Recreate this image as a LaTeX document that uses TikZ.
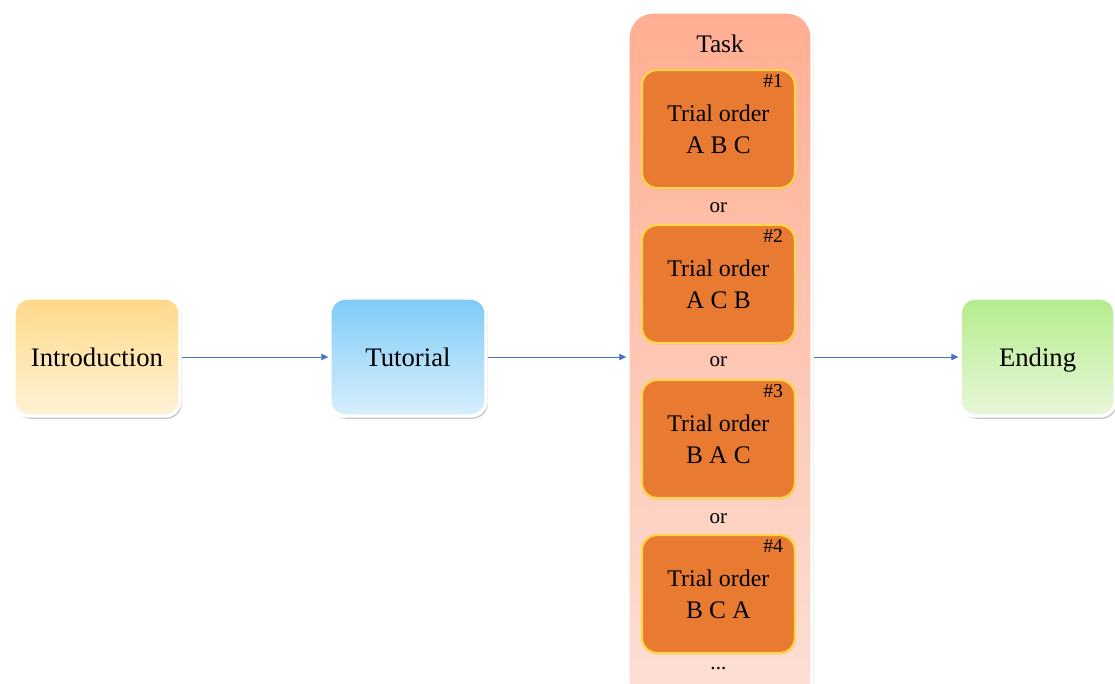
\documentclass[tikz,border=0pt]{standalone}
\usepackage{fontspec}
\setmainfont{Liberation Serif}
\usetikzlibrary{arrows.meta,shadows}

\definecolor{introtop}{HTML}{FFD98A}
\definecolor{introbot}{HTML}{FFF2D6}
\definecolor{tuttop}{HTML}{7ECBF7}
\definecolor{tutbot}{HTML}{D8EFFC}
\definecolor{endtop}{HTML}{B4EC8C}
\definecolor{endbot}{HTML}{E8F7D9}
\definecolor{tasktop}{HTML}{FFAE92}
\definecolor{taskbot}{HTML}{FCE0D6}
\definecolor{trialfill}{HTML}{E97A32}
\definecolor{trialrim}{HTML}{FFD54A}
\definecolor{flowblue}{HTML}{4472C4}

\begin{document}
\begin{tikzpicture}[
  stage/.style={rounded corners=0.38cm, draw=white, line width=2.4pt,
    minimum width=#1, minimum height=2.95cm, text height=13pt, text depth=0pt,
    drop shadow={shadow xshift=1.2pt, shadow yshift=-2pt, opacity=0.45, fill=black!50},
    font=\fontsize{19}{22}\selectfont},
  stage/.default=3.9cm,
  trial/.style={rounded corners=0.38cm, draw=trialrim, line width=1.6pt,
    fill=trialfill, minimum width=3.825cm, minimum height=2.95cm,
    drop shadow={shadow xshift=0.6pt, shadow yshift=-1pt, opacity=0.25},
    align=center, font=\fontsize{17}{23}\selectfont},
  small/.style={font=\fontsize{15}{17}\selectfont},
  flow/.style={draw=flowblue, line width=0.6pt, -{Triangle[length=5pt,width=4.5pt]}}
]
  \useasboundingbox (0,0) rectangle (27.875,-17.075);

  % outer stages
  \node[stage=4.15cm, top color=introtop, bottom color=introbot] (intro) at (2.425,-8.925) {Introduction};
  \node[stage, top color=tuttop, bottom color=tutbot] (tutorial) at (10.2,-8.925) {Tutorial};
  \node[stage=3.875cm, top color=endtop, bottom color=endbot] (ending) at (25.94,-8.925) {Ending};

  % task column
  \node[stage=4.6cm, rounded corners=0.62cm, minimum height=17.4cm,
        top color=tasktop, bottom color=taskbot] (task) at (18.0,-9.0) {};
  \node[font=\fontsize{18}{22}\selectfont] (tasklabel) at (18.0,-1.1) {Task};

  \foreach \n/\ord/\yy in {1/A B C/-3.225, 2/A C B/-7.1, 3/B A C/-10.975, 4/B C A/-14.85}
    \node[trial, label={[anchor=north east, xshift=-0.2cm, yshift=-0.02cm,
          font=\fontsize{14}{16}\selectfont]north east:\#\n}] (trial\n) at (17.96,\yy)
      {Trial order\\{\fontsize{18}{23}\selectfont \ord}};

  \foreach \yy [count=\i] in {-5.2,-9.05,-12.975}
    \node[small] (or\i) at (17.96,\yy) {or};
  \node[small] (more) at (17.96,-16.72) {...};

  % connectors
  \draw[flow] (intro.east) -- (tutorial.west);
  \draw[flow] (tutorial.east) -- (tutorial.east -| task.west);
  \draw[flow] (task.east |- ending.west) -- (ending.west);
\end{tikzpicture}
\end{document}
